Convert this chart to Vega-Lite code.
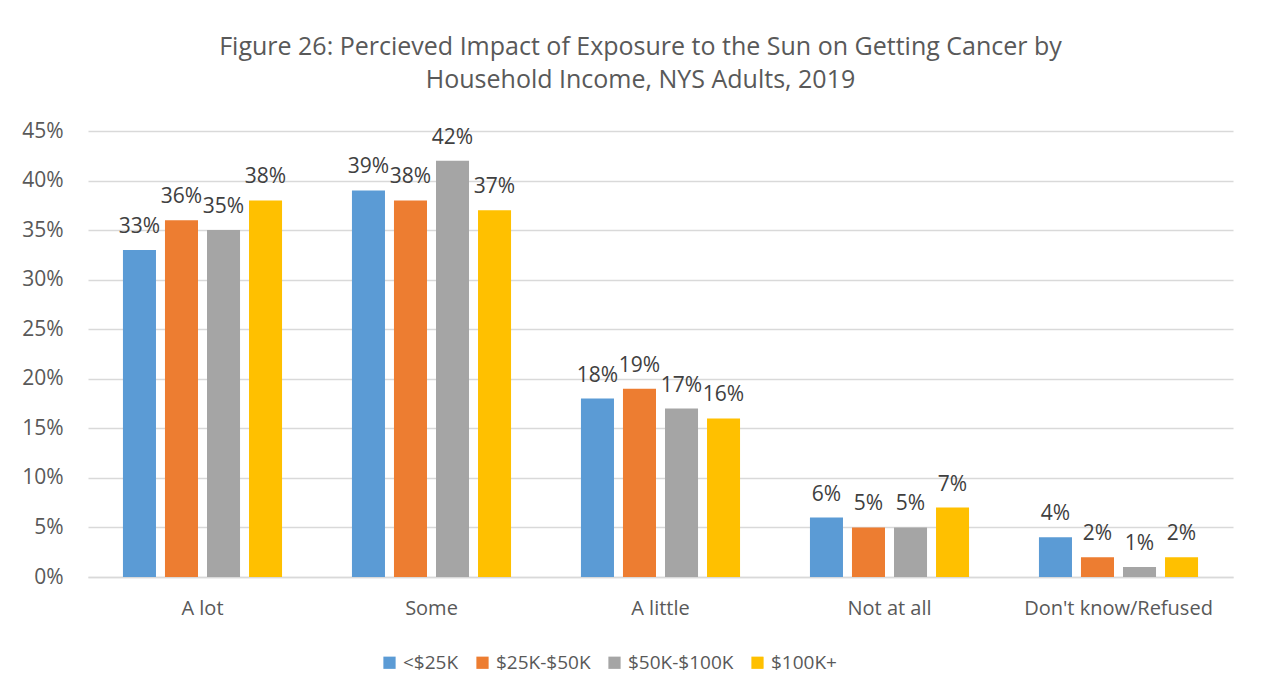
{
  "$schema": "https://vega.github.io/schema/vega-lite/v6.json",
  "width": 1145,
  "height": 446,
  "autosize": {"type": "none"},
  "padding": {"left": 88, "top": 131, "right": 32, "bottom": 119},
  "background": "white",
  "title": {
    "text": ["Figure 26: Percieved Impact of Exposure to the Sun on Getting Cancer by", "Household Income, NYS Adults, 2019"],
    "anchor": "middle",
    "frame": "group",
    "dx": -20,
    "offset": 27,
    "fontSize": 25,
    "font": "Open Sans",
    "fontWeight": "normal",
    "color": "#595959",
    "lineHeight": 33
  },
  "data": {
    "values": [
      {"category": "A lot", "income": "<$25K", "value": 0.33},
      {"category": "A lot", "income": "$25K-$50K", "value": 0.36},
      {"category": "A lot", "income": "$50K-$100K", "value": 0.35},
      {"category": "A lot", "income": "$100K+", "value": 0.38},
      {"category": "Some", "income": "<$25K", "value": 0.39},
      {"category": "Some", "income": "$25K-$50K", "value": 0.38},
      {"category": "Some", "income": "$50K-$100K", "value": 0.42},
      {"category": "Some", "income": "$100K+", "value": 0.37},
      {"category": "A little", "income": "<$25K", "value": 0.18},
      {"category": "A little", "income": "$25K-$50K", "value": 0.19},
      {"category": "A little", "income": "$50K-$100K", "value": 0.17},
      {"category": "A little", "income": "$100K+", "value": 0.16},
      {"category": "Not at all", "income": "<$25K", "value": 0.06},
      {"category": "Not at all", "income": "$25K-$50K", "value": 0.05},
      {"category": "Not at all", "income": "$50K-$100K", "value": 0.05},
      {"category": "Not at all", "income": "$100K+", "value": 0.07},
      {"category": "Don't know/Refused", "income": "<$25K", "value": 0.04},
      {"category": "Don't know/Refused", "income": "$25K-$50K", "value": 0.02},
      {"category": "Don't know/Refused", "income": "$50K-$100K", "value": 0.01},
      {"category": "Don't know/Refused", "income": "$100K+", "value": 0.02}
    ]
  },
  "encoding": {
    "x": {
      "field": "category",
      "type": "nominal",
      "sort": ["A lot", "Some", "A little", "Not at all", "Don't know/Refused"],
      "scale": {"paddingInner": 0.266, "paddingOuter": 0.133},
      "axis": {
        "title": null,
        "labelAngle": 0,
        "labelFont": "Open Sans",
        "labelFontSize": 20,
        "labelColor": "#595959",
        "labelPadding": 21,
        "labelLimit": 0,
        "ticks": false,
        "domainColor": "#d9d9d9",
        "domainWidth": 1.5,
        "grid": false
      }
    },
    "xOffset": {
      "field": "income",
      "type": "nominal",
      "sort": ["<$25K", "$25K-$50K", "$50K-$100K", "$100K+"],
      "scale": {"paddingInner": 0.214, "paddingOuter": 0.107}
    },
    "y": {
      "field": "value",
      "type": "quantitative",
      "scale": {"domain": [0, 0.45]},
      "axis": {
        "title": null,
        "values": [0, 0.05, 0.1, 0.15, 0.2, 0.25, 0.3, 0.35, 0.4, 0.45],
        "format": ".0%",
        "labelFont": "Open Sans",
        "labelFontSize": 21,
        "labelColor": "#595959",
        "labelPadding": 25,
        "ticks": false,
        "domain": false,
        "gridColor": "#d9d9d9",
        "gridWidth": 1.5
      }
    }
  },
  "layer": [
    {
      "mark": {"type": "bar"},
      "encoding": {
        "color": {
          "field": "income",
          "type": "nominal",
          "sort": ["<$25K", "$25K-$50K", "$50K-$100K", "$100K+"],
          "scale": {
            "domain": ["<$25K", "$25K-$50K", "$50K-$100K", "$100K+"],
            "range": ["#5B9BD5", "#ED7D31", "#A5A5A5", "#FFC000"]
          },
          "legend": {
            "title": null,
            "orient": "none",
            "direction": "horizontal",
            "legendX": 292,
            "legendY": 522,
            "symbolType": "square",
            "symbolSize": 150,
            "symbolStrokeWidth": 0,
            "labelFont": "Open Sans",
            "labelFontSize": 19,
            "labelColor": "#595959",
            "columnPadding": 14,
            "labelOffset": 4
          }
        }
      }
    },
    {
      "mark": {
        "type": "text",
        "baseline": "alphabetic",
        "dy": -17,
        "font": "Open Sans",
        "fontSize": 21,
        "color": "#404040"
      },
      "encoding": {
        "text": {"field": "value", "type": "quantitative", "format": ".0%"}
      }
    }
  ],
  "config": {
    "view": {"stroke": null}
  }
}
